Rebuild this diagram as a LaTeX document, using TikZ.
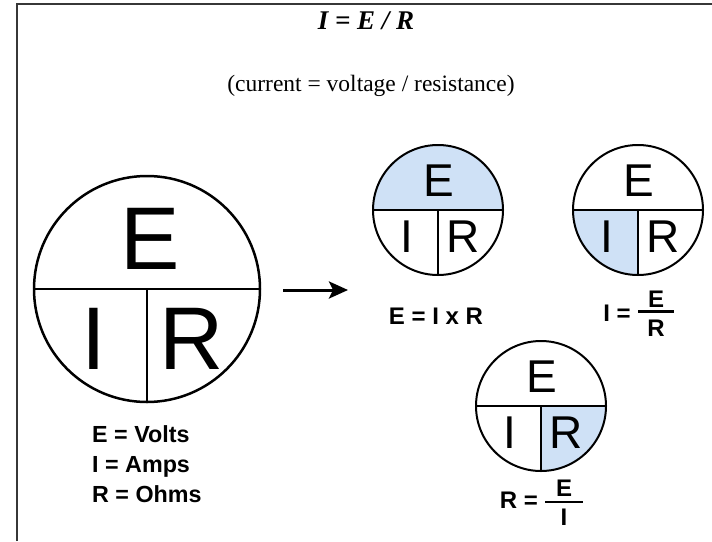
\documentclass[tikz,border=0pt]{standalone}
\usepackage{fontspec}
\setmainfont{Liberation Serif}
\newfontfamily\arialfont{Liberation Sans}
\usetikzlibrary{arrows.meta}
\definecolor{cellblue}{RGB}{207,225,246}
\definecolor{framegray}{RGB}{55,55,55}
\begin{document}
\begin{tikzpicture}[x=1pt,y=-1pt,
  bigring/.style={circle, draw, line width=2.5pt, minimum size=226pt, inner sep=0pt},
  smallring/.style={circle, draw, line width=2pt, minimum size=130pt, inner sep=0pt},
  topfill/.style={path picture={\fill[cellblue] (path picture bounding box.north west) rectangle (path picture bounding box.east);}},
  leftfill/.style={path picture={\fill[cellblue] (path picture bounding box.west) rectangle (path picture bounding box.south);}},
  rightfill/.style={path picture={\fill[cellblue] (path picture bounding box.center) rectangle (path picture bounding box.south east);}},
  bigletter/.style={inner sep=0pt, font=\arialfont\fontsize{89}{89}\selectfont},
  smallletter/.style={inner sep=0pt, font=\arialfont\fontsize{46}{46}\selectfont},
  formula/.style={inner sep=0pt, font=\arialfont\bfseries\fontsize{24}{24}\selectfont},
  legend/.style={inner sep=0pt, anchor=base west, font=\arialfont\bfseries\fontsize{23.3}{23.3}\selectfont},
  fracbar/.style={line width=2.8pt}
]
\useasboundingbox (0,0) rectangle (712,541);
\fill[white] (0,0) rectangle (712,541);
\draw[framegray, line width=2pt] (17,541) -- (17,4) -- (712,4);

% titles
\node[inner sep=0pt, font=\bfseries\itshape\fontsize{27}{27}\selectfont] (title) at (366,21) {I = E / R};
\node[inner sep=0pt, font=\fontsize{23.5}{23.5}\selectfont] (subtitle) at (371,86) {(current = voltage / resistance)};

% big circle
\node[bigring] (big) at (147,289) {};
\draw[line width=2.5pt] (big.west) -- (big.east);
\draw[line width=2.5pt] (big.center) -- (big.south);
\node[bigletter] (bigE) at (150,238.5) {E};
\node[bigletter] (bigI) at (94,339) {I};
\node[bigletter] (bigR) at (192,338.5) {R};

% legend
\node[legend] (lv) at (92,442.5) {E = Volts};
\node[legend] (la) at (92,472.5) {I = Amps};
\node[legend] (lo) at (92,502.5) {R = Ohms};

% arrow
\coordinate (arrS) at (283,290);
\coordinate (arrE) at (348,290);
\draw[line width=3pt, -{Stealth[length=19pt,width=17pt,inset=4pt]}] (arrS) -- (arrE);

% circle 1 : E
\node[smallring, topfill] (c1) at (438,210) {};
\draw[line width=2pt] (c1.west) -- (c1.east);
\draw[line width=2pt] (c1.center) -- (c1.south);
\node[smallletter] (c1E) at (439,181) {E};
\node[smallletter] (c1I) at (407,236.5) {I};
\node[smallletter] (c1R) at (463,236.5) {R};
\node[formula] (f1) at (436,316) {E = I x R};

% circle 2 : I
\node[smallring, leftfill] (c2) at (638,210) {};
\draw[line width=2pt] (c2.west) -- (c2.east);
\draw[line width=2pt] (c2.center) -- (c2.south);
\node[smallletter] (c2E) at (639,181) {E};
\node[smallletter] (c2I) at (607,236.5) {I};
\node[smallletter] (c2R) at (663,236.5) {R};
\node[formula] (f2l) at (617,313) {I =};
\node[formula] (f2n) at (656,299) {E};
\node[formula] (f2d) at (656,328) {R};
\coordinate (b2l) at (638,311.5);
\coordinate (b2r) at (674,311.5);
\draw[fracbar] (b2l) -- (b2r);

% circle 3 : R
\node[smallring, rightfill] (c3) at (541,406) {};
\draw[line width=2pt] (c3.west) -- (c3.east);
\draw[line width=2pt] (c3.center) -- (c3.south);
\node[smallletter] (c3E) at (542,377) {E};
\node[smallletter] (c3I) at (510,432.5) {I};
\node[smallletter] (c3R) at (566,432.5) {R};
\node[formula] (f3l) at (519,500) {R =};
\node[formula] (f3n) at (564,488) {E};
\node[formula] (f3d) at (564,517) {I};
\coordinate (b3l) at (545,502);
\coordinate (b3r) at (583,502);
\draw[fracbar] (b3l) -- (b3r);
\end{tikzpicture}
\end{document}
